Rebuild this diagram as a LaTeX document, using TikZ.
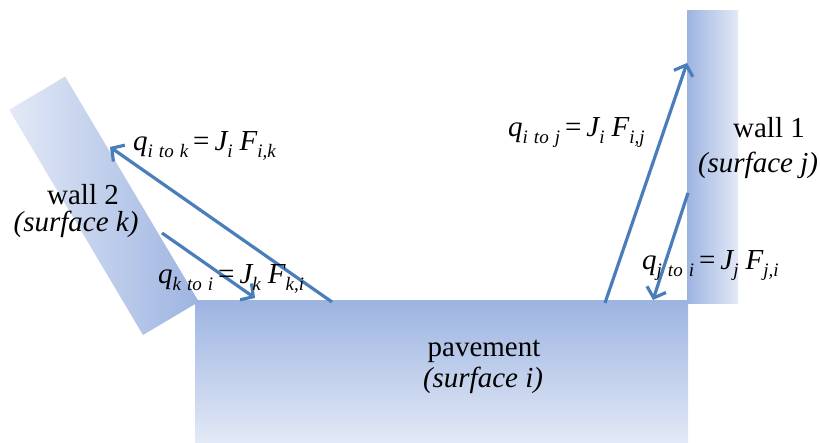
\documentclass[tikz,border=0pt]{standalone}
\usepackage{fontspec}
\setmainfont{Liberation Serif}
\usetikzlibrary{arrows.meta}
\definecolor{surfdark}{HTML}{9DB4E1}
\definecolor{surflight}{HTML}{E3E9F6}
\definecolor{arrowblue}{HTML}{4A7EBB}
\newcommand\subtxt[1]{\lower7pt\hbox{\fontsize{19}{19}\selectfont\itshape\spaceskip=6pt #1}}
\newcommand\fluxlab[3]{{\itshape q}\subtxt{#1}\hspace{5pt}=\hspace{5pt}{\itshape J}\subtxt{#2}\hspace{7pt}{\itshape F}\subtxt{#3}}
\begin{document}
\begin{tikzpicture}[x=1pt,y=1pt,
  flux/.style={draw=arrowblue, line width=3.2pt, -{Straight Barb[length=9pt,width=20pt]}},
  lab/.style={inner sep=0pt, anchor=base west, font=\fontsize{29}{31}\selectfont},
  txt/.style={inner sep=0pt, anchor=base, font=\fontsize{29}{31}\selectfont}]
\useasboundingbox (0,0) rectangle (820,443);
% wall 2 (rotated)
\begin{scope}[shift={(143,108)}, rotate=30.7]
  \shade[left color=surflight, right color=surfdark] (0,0) rectangle (65,262);
\end{scope}
% pavement
\shade[top color=surfdark, bottom color=surflight] (195,0) rectangle (688,142);
% wall 1
\shade[left color=surfdark, right color=surflight] (687,139) rectangle (738,432);
% endpoints
\coordinate (pik) at (332,141);
\coordinate (wik) at (110,296);
\coordinate (wki) at (162,210);
\coordinate (pki) at (255,145);
\coordinate (pij) at (605,140);
\coordinate (wij) at (687,380);
\coordinate (wji) at (688,250);
\coordinate (pji) at (653,143);
\draw[flux] (pik) -- (wik);
\draw[flux] (wki) -- (pki);
\draw[flux] (pij) -- (wij);
\draw[flux] (wji) -- (pji);
% labels
\node[lab] (lik) at (133,292) {\fluxlab{i to k}{i}{i,k}};
\node[lab] (lki) at (158,159) {\fluxlab{k to i}{k}{k,i}};
\node[lab] (lij) at (508,306) {\fluxlab{i to j}{i}{i,j}};
\node[lab] (lji) at (642,173) {\fluxlab{j to i}{j}{j,i}};
\node[txt] (w2a) at (83,238) {wall 2};
\node[txt] (w2b) at (76,211) {\itshape (surface k)};
\node[txt] (w1a) at (769,305) {wall 1};
\node[txt] (w1b) at (758,270) {\itshape (surface j)};
\node[txt] (pva) at (484,86) {pavement};
\node[txt] (pvb) at (483,55) {\itshape (surface i)};
\end{tikzpicture}
\end{document}
